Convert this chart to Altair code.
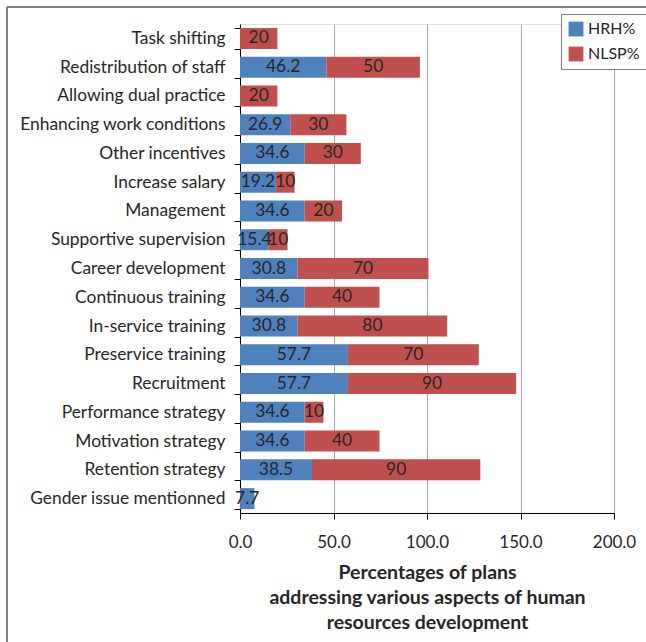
import altair as alt
import pandas as pd

# Aspects of human resources development, top to bottom
categories = [
    "Task shifting", "Redistribution of staff", "Allowing dual practice",
    "Enhancing work conditions", "Other incentives", "Increase salary",
    "Management", "Supportive supervision", "Career development",
    "Continuous training", "In-service training", "Preservice training",
    "Recruitment", "Performance strategy", "Motivation strategy",
    "Retention strategy", "Gender issue mentionned",
]
# Share of HRH plans (None = not addressed)
hrh = [None, 46.2, None, 26.9, 34.6, 19.2, 34.6, 15.4, 30.8,
       34.6, 30.8, 57.7, 57.7, 34.6, 34.6, 38.5, 7.7]
# Share of NLSP plans
nlsp = [20, 50, 20, 30, 30, 10, 20, 10, 70,
        40, 80, 70, 90, 10, 40, 90, None]

series_names = ["HRH%", "NLSP%"]
series_colors = ["#4F81BD", "#C0504D"]

rows = []
for cat, h, n in zip(categories, hrh, nlsp):
    for k, (name, v) in enumerate(zip(series_names, (h, n))):
        if v is None:
            continue
        rows.append({"aspect": cat, "series": name, "order": k,
                     "value": v, "label": f"{v:g}"})
df = pd.DataFrame(rows)

W, H = 374, 489
FONT = "Lato"
TXT = "#262626"

base = alt.Chart(df).transform_stack(
    stack="value", groupby=["aspect"], as_=["x0", "x1"],
    sort=[alt.SortField("order", order="ascending")],
).transform_calculate(mid="(datum.x0 + datum.x1) / 2")

y_enc = alt.Y(
    "aspect:N", sort=categories, title=None,
    scale=alt.Scale(paddingInner=0.27, paddingOuter=0.135),
    axis=alt.Axis(
        tickBand="extent", labelFontSize=17.4, labelFont=FONT,
        labelColor=TXT, labelPadding=9, tickSize=6,
        tickColor="#000000", domainColor="#000000", labelLimit=300,
    ),
)

bars = base.mark_bar().encode(
    x=alt.X(
        "x0:Q",
        scale=alt.Scale(domain=[0, 200], nice=False),
        axis=alt.Axis(
            values=[0, 50, 100, 150, 200], format=".1f", labelFlush=False,
            labelFontSize=17, labelFont=FONT, labelColor=TXT,
            labelPadding=15, tickSize=6, tickColor="#000000",
            domainColor="#000000", gridColor="#a6a6a6", grid=True,
            title=["Percentages of plans",
                   "addressing various aspects of human",
                   "resources development"],
            titleFontSize=19.5, titleFont=FONT, titleFontWeight="bold",
            titleColor=TXT, titlePadding=13, titleLineHeight=25,
        ),
    ),
    x2="x1:Q",
    y=y_enc,
    color=alt.Color(
        "series:N",
        scale=alt.Scale(domain=series_names, range=series_colors),
        legend=alt.Legend(
            title=None, orient="none", legendX=321, legendY=-10,
            symbolType="square", symbolSize=220, symbolStrokeWidth=0,
            labelFontSize=16, labelFont=FONT, labelColor=TXT,
            strokeColor="#7f7f7f", padding=7, rowPadding=9,
            fillColor="white",
        ),
    ),
)

labels = base.mark_text(fontSize=17.4, font=FONT, color=TXT).encode(
    x="mid:Q",
    y=alt.Y("aspect:N", sort=categories),
    text="label:N",
)

# Outer frame of the figure (top and left edges)
frame_top = alt.Chart(df).mark_rule(color="#7f7f7f", strokeWidth=2).encode(
    x=alt.value(-233), x2=alt.value(W + 40), y=alt.value(-17)
)
frame_left = alt.Chart(df).mark_rule(color="#7f7f7f", strokeWidth=2).encode(
    x=alt.value(-233), y=alt.value(-17), y2=alt.value(H + 140)
)

chart = alt.layer(bars, labels, frame_top, frame_left).properties(
    width=W, height=H,
    autosize=alt.AutoSizeParams(type="none"),
    padding={"left": 240, "top": 24, "right": 32, "bottom": 129},
).configure_view(stroke=None).configure(background="white")

chart.save("out.html", embed_options={"renderer": "svg", "actions": False})
